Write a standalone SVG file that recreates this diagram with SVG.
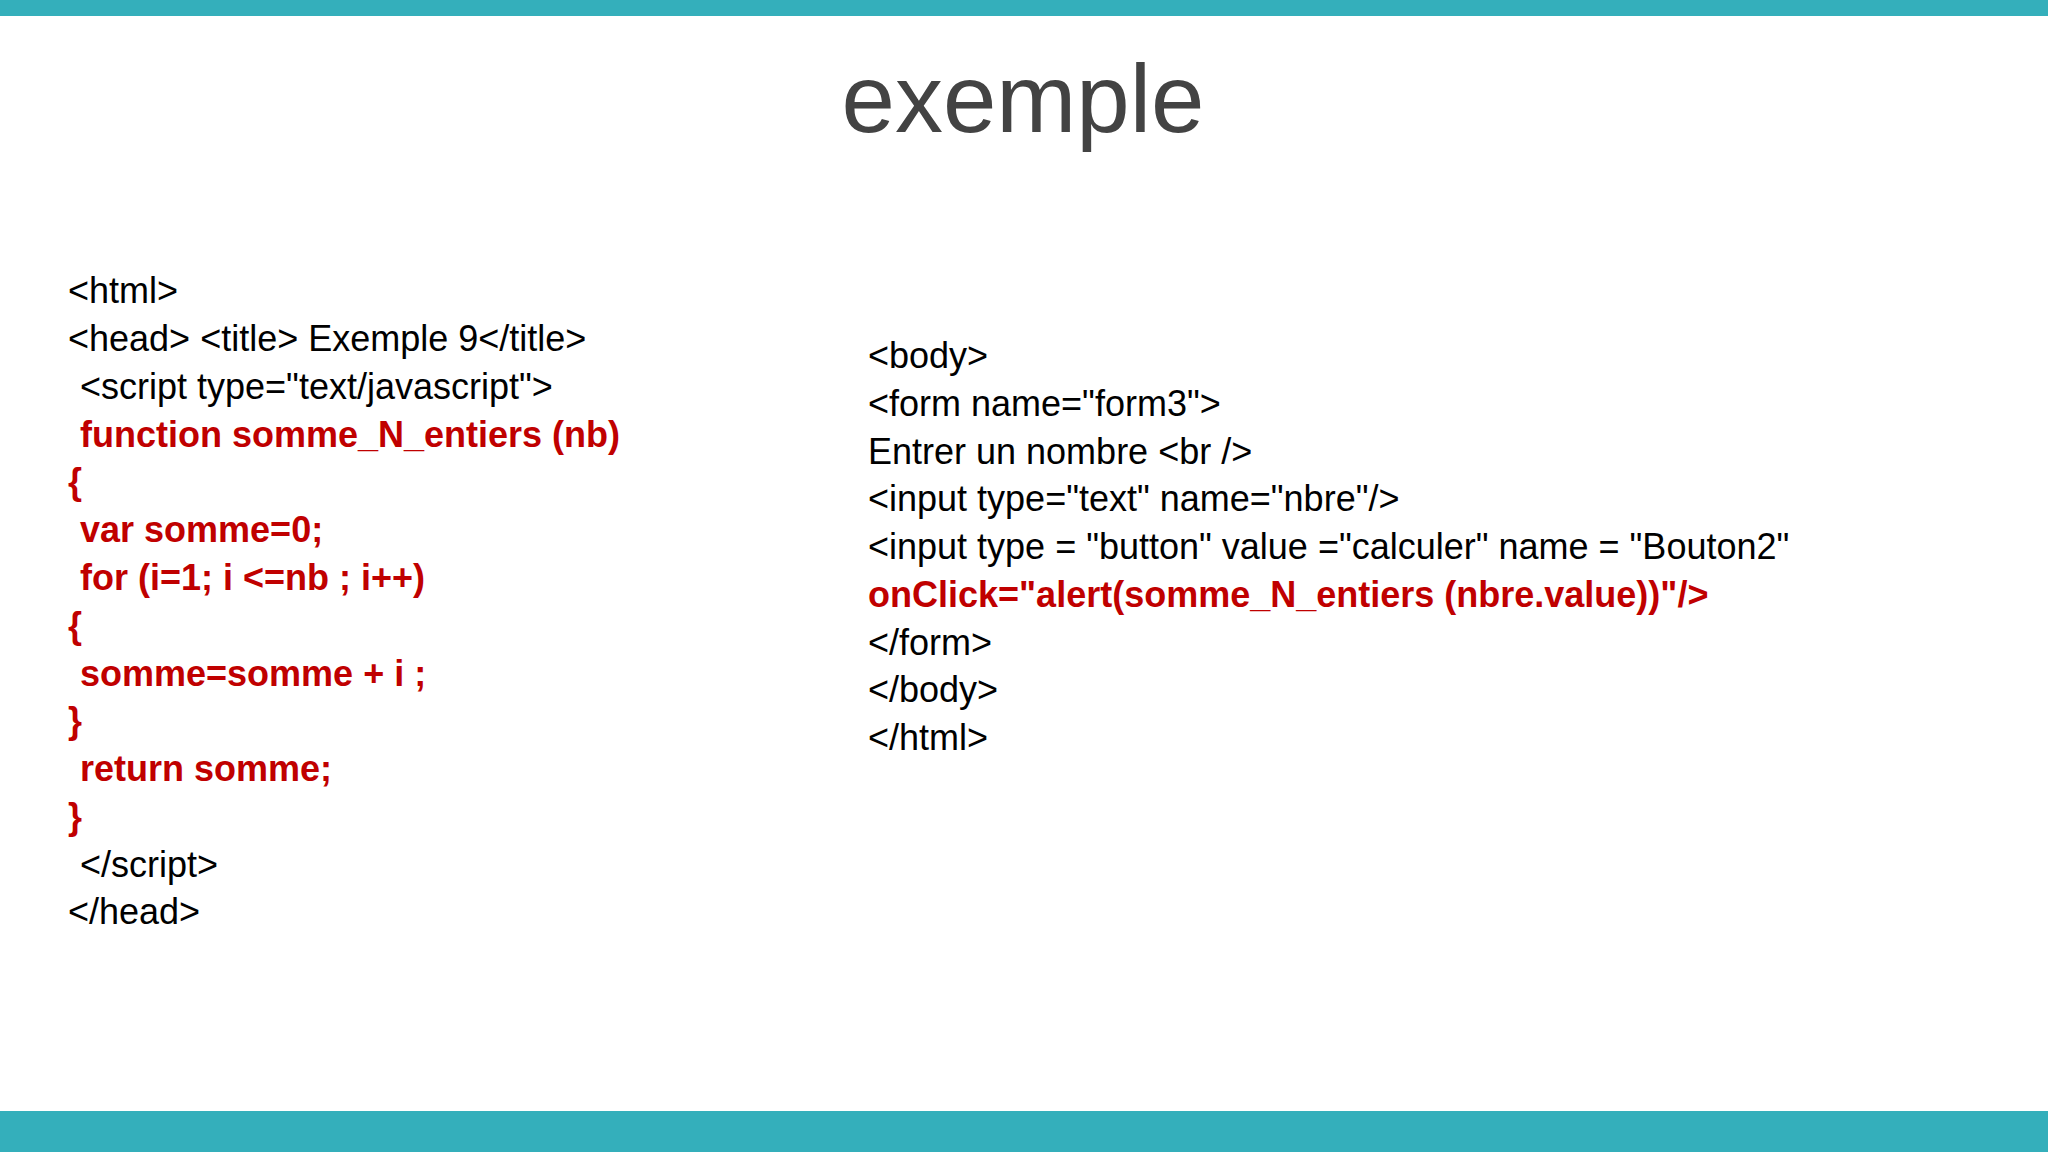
<svg xmlns="http://www.w3.org/2000/svg" width="2048" height="1152" viewBox="0 0 2048 1152">
<style>
.t{font-family:"Liberation Sans",Arial,sans-serif;font-size:36px;fill:#000}
.r{fill:#c00000;font-weight:bold}
</style>
<rect width="2048" height="1152" fill="#fff"/>
<rect width="2048" height="16" fill="#34afbb"/>
<rect y="1111" width="2048" height="41" fill="#34afbb"/>
<text x="1023" y="132" text-anchor="middle" font-family="Liberation Sans,Arial,sans-serif" font-size="96" fill="#434343">exemple</text>
<g id="left">
<text class="t" x="68" y="303">&lt;html&gt;</text>
<text class="t" x="68" y="351">&lt;head&gt; &lt;title&gt; Exemple 9&lt;/title&gt;</text>
<text class="t" x="80" y="399">&lt;script type="text/javascript"&gt;</text>
<text class="t r" x="80" y="447">function somme_N_entiers (nb)</text>
<text class="t r" x="68" y="494">{</text>
<text class="t r" x="80" y="542">var somme=0;</text>
<text class="t r" x="80" y="590">for (i=1; i &lt;=nb ; i++)</text>
<text class="t r" x="68" y="638">{</text>
<text class="t r" x="80" y="686">somme=somme + i ;</text>
<text class="t r" x="68" y="733">}</text>
<text class="t r" x="80" y="781">return somme;</text>
<text class="t r" x="68" y="829">}</text>
<text class="t" x="80" y="877">&lt;/script&gt;</text>
<text class="t" x="68" y="924">&lt;/head&gt;</text>
</g>
<g id="right">
<text class="t" x="868" y="368">&lt;body&gt;</text>
<text class="t" x="868" y="416">&lt;form name="form3"&gt;</text>
<text class="t" x="868" y="464">Entrer un nombre &lt;br /&gt;</text>
<text class="t" x="868" y="511">&lt;input type="text" name="nbre"/&gt;</text>
<text class="t" x="868" y="559">&lt;input type = "button" value ="calculer" name = "Bouton2"</text>
<text class="t r" x="868" y="607">onClick="alert(somme_N_entiers (nbre.value))"/&gt;</text>
<text class="t" x="868" y="655">&lt;/form&gt;</text>
<text class="t" x="868" y="702">&lt;/body&gt;</text>
<text class="t" x="868" y="750">&lt;/html&gt;</text>
</g>
</svg>
